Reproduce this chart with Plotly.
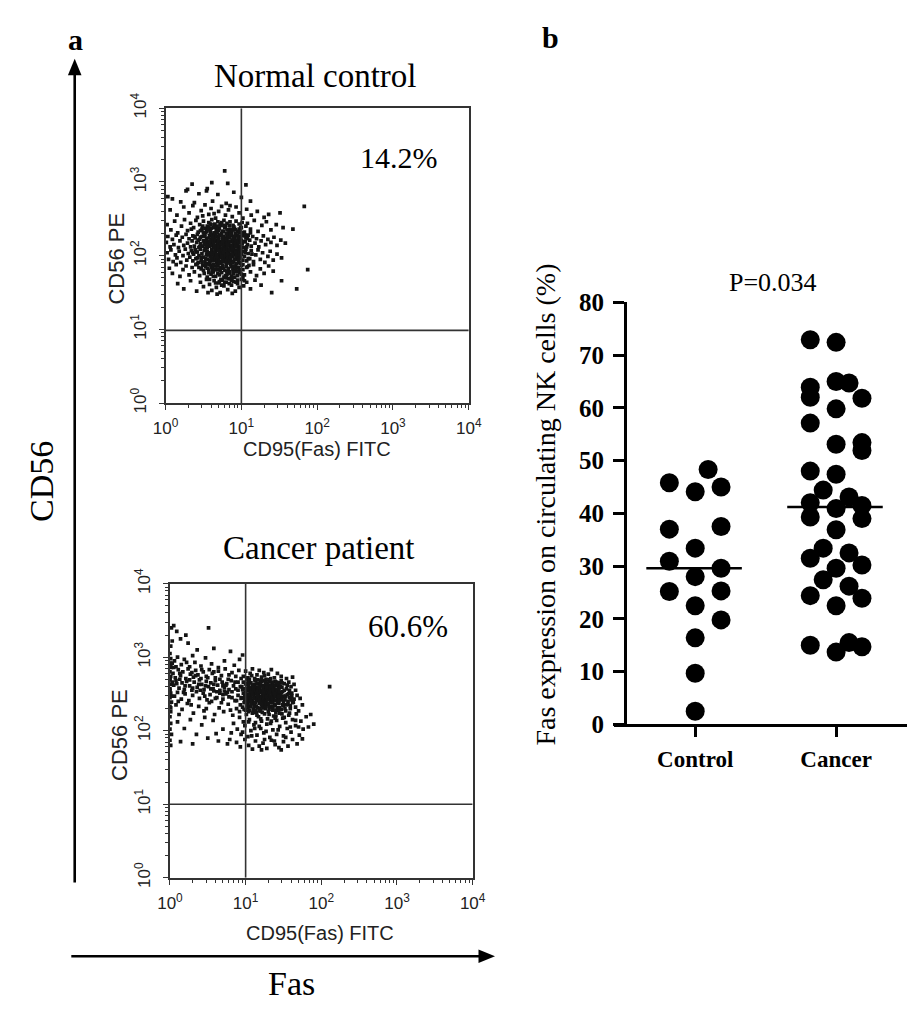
import plotly.graph_objects as go

W, H = 922, 1013

# ---------------- Panel b data (Fas expression, %) ----------------
categories = ["Control", "Cancer"]
control_values = [45.8, 48.3, 44.1, 45.0, 37.0, 37.5, 33.4, 30.9, 29.6, 28.0,
                  25.2, 25.3, 22.5, 19.8, 16.4, 9.7, 2.5]
control_slots = [-2, 1, 0, 2, -2, 2, 0, -2, 2, 0, -2, 2, 0, 2, 0, 0, 0]
cancer_values = [72.9, 72.4, 65.0, 64.7, 63.9, 62.0, 61.8, 59.8, 57.1, 53.1,
                 53.4, 51.9, 48.0, 47.4, 44.4, 42.0, 43.1, 41.5, 40.9, 39.3,
                 39.0, 36.9, 33.4, 31.5, 32.5, 29.6, 30.2, 27.4, 26.2, 24.4,
                 23.9, 22.5, 15.0, 13.7, 15.5, 14.7]
cancer_slots = [-2, 0, 0, 1, -2, -2, 2, 0, -2, 0,
                2, 2, -2, 0, -1, -2, 1, 2, 0, -2,
                2, 0, -1, -2, 1, 0, 2, -1, 1, -2,
                2, 0, -2, 0, 1, 2]
p_value_text = "P=0.034"
y_ticks_b = [0, 10, 20, 30, 40, 50, 60, 70, 80]

# ---------------- Panel a data (log10 decades: CD95 FITC, CD56 PE) ----------------
decades = [1, 10, 100, 1000, 10000]
decade_labels = ["10<sup>0</sup>", "10<sup>1</sup>", "10<sup>2</sup>", "10<sup>3</sup>", "10<sup>4</sup>"]
normal_gate = (10, 9.7)
cancer_gate = (10, 10)
normal_pct = "14.2%"
cancer_pct = "60.6%"

normal_log_pts = [
    (0.78,3.15),(0.35,2.97),(0.61,2.99),(0.82,2.98),(1.06,2.96),(0.29,2.90),(0.55,2.91),
    (0.03,2.80),(0.09,2.77),(0.27,2.88),(0.54,2.88),(0.44,2.84),(0.69,2.83),(0.90,2.86),(1.00,2.79),
    (0.62,2.74),(0.38,2.72),(0.80,2.71),(0.20,2.73),(1.12,2.74),(1.83,2.67),
    (0.06,2.62),(0.15,2.55),(0.24,2.66),(0.31,2.58),(0.36,2.68),(0.42,2.52),(0.47,2.61),(0.52,2.69),
    (0.57,2.56),(0.60,2.64),(0.66,2.51),(0.70,2.60),(0.74,2.67),(0.79,2.55),(0.83,2.62),(0.88,2.53),
    (0.93,2.66),(0.97,2.58),(1.02,2.51),(1.07,2.63),(1.13,2.55),(1.21,2.60),(1.30,2.52),(1.51,2.58),
    (0.64,2.57),(0.85,2.68),(0.49,2.54),(1.36,2.56),
    (0.02,2.42),(0.07,2.35),(0.12,2.47),(0.16,2.31),(0.21,2.40),(0.25,2.49),(0.29,2.34),(0.33,2.44),
    (0.37,2.38),(0.40,2.48),(0.43,2.32),(0.45,2.42),(0.48,2.36),(0.50,2.47),(0.53,2.31),(0.55,2.40),
    (0.57,2.45),(0.59,2.34),(0.61,2.49),(0.63,2.38),(0.65,2.43),(0.67,2.32),(0.69,2.46),(0.71,2.37),
    (0.73,2.41),(0.75,2.33),(0.77,2.48),(0.79,2.39),(0.81,2.44),(0.83,2.35),(0.85,2.46),(0.87,2.31),
    (0.89,2.41),(0.91,2.37),(0.93,2.47),(0.95,2.33),(0.97,2.43),(0.99,2.38),(1.01,2.45),(1.04,2.32),
    (0.52,2.37),(0.68,2.40),(0.84,2.41),(0.74,2.45),(0.60,2.42),(0.92,2.35),
    (1.08,2.44),(1.12,2.36),(1.17,2.48),(1.22,2.33),(1.27,2.41),(1.33,2.46),(1.39,2.35),(1.46,2.42),(1.55,2.38),
    (0.01,2.18),(0.03,2.26),(0.06,2.12),(0.09,2.22),(0.11,2.15),(0.14,2.28),(0.17,2.11),(0.19,2.20),
    (0.22,2.25),(0.24,2.14),(0.27,2.29),(0.29,2.17),(0.31,2.23),(0.33,2.12),
    (0.35,2.20),(0.36,2.27),(0.38,2.13),(0.39,2.24),(0.41,2.18),(0.42,2.29),(0.44,2.11),(0.45,2.22),
    (0.46,2.16),(0.48,2.26),(0.49,2.13),(0.50,2.20),(0.51,2.28),(0.53,2.15),(0.54,2.23),(0.55,2.11),
    (0.56,2.19),(0.58,2.27),(0.59,2.14),(0.60,2.22),(0.61,2.17),(0.62,2.29),(0.63,2.12),(0.64,2.24),
    (0.65,2.19),(0.66,2.27),(0.67,2.14),(0.68,2.21),(0.69,2.16),(0.70,2.25),(0.71,2.11),(0.72,2.19),
    (0.73,2.28),(0.74,2.15),(0.75,2.22),(0.76,2.13),(0.77,2.26),(0.78,2.18),(0.79,2.23),(0.80,2.12),
    (0.81,2.20),(0.82,2.29),(0.83,2.16),(0.84,2.24),(0.85,2.11),(0.86,2.19),(0.87,2.27),(0.88,2.14),
    (0.89,2.22),(0.90,2.17),(0.91,2.25),(0.92,2.12),(0.93,2.20),(0.94,2.28),(0.95,2.15),(0.96,2.23),
    (0.97,2.18),(0.98,2.26),(0.99,2.13),(1.00,2.21),(1.01,2.16),(1.02,2.27),(1.03,2.11),(1.05,2.19),
    (1.06,2.24),(1.08,2.15),(1.09,2.28),
    (1.11,2.21),(1.13,2.13),(1.15,2.26),(1.18,2.17),(1.20,2.23),(1.23,2.12),(1.26,2.20),(1.29,2.27),
    (1.32,2.15),(1.35,2.22),(1.39,2.18),(1.43,2.25),(1.47,2.14),(1.52,2.21),(1.58,2.17),(1.68,2.36),
    (0.02,2.04),(0.04,1.95),(0.07,2.08),(0.10,1.92),(0.13,2.01),(0.15,1.97),(0.18,2.06),(0.20,1.91),
    (0.23,2.00),(0.26,2.09),(0.28,1.94),(0.30,2.03),(0.32,1.98),(0.34,2.07),
    (0.36,1.93),(0.37,2.02),(0.39,2.08),(0.40,1.96),(0.42,2.05),(0.43,1.91),(0.44,2.00),(0.46,2.09),
    (0.47,1.94),(0.48,2.03),(0.50,1.98),(0.51,2.07),(0.52,1.92),(0.54,2.01),(0.55,2.06),(0.56,1.95),
    (0.57,2.04),(0.58,1.90),(0.60,1.99),(0.61,2.08),(0.62,1.93),(0.63,2.02),(0.64,1.97),(0.66,2.06),
    (0.67,1.91),(0.68,2.00),(0.69,2.09),(0.70,1.95),(0.71,2.04),(0.72,1.98),(0.73,2.07),(0.74,1.92),
    (0.75,2.01),(0.76,2.05),(0.77,1.94),(0.78,2.03),(0.79,1.97),(0.80,2.08),(0.81,1.91),(0.82,2.00),
    (0.83,2.06),(0.84,1.96),(0.85,2.02),(0.86,1.93),(0.87,2.09),(0.88,1.99),(0.89,2.04),(0.90,1.92),
    (0.91,2.01),(0.92,2.07),(0.93,1.95),(0.94,2.03),(0.95,1.98),(0.96,2.08),(0.97,1.91),(0.98,2.05),
    (0.99,1.97),(1.00,2.02),(1.02,1.94),(1.03,2.06),(1.04,1.99),(1.06,2.09),(1.07,1.93),(1.09,2.03),
    (1.11,1.96),(1.13,2.07),(1.16,1.92),(1.19,2.01),(1.22,2.08),(1.25,1.95),(1.28,2.04),(1.31,1.91),
    (1.35,1.99),(1.38,2.06),(1.42,1.94),(1.47,2.02),(1.53,1.97),
    (0.05,1.83),(0.09,1.76),(0.14,1.88),(0.19,1.72),(0.23,1.81),(0.27,1.86),(0.31,1.74),(0.35,1.84),
    (0.38,1.78),(0.42,1.89),
    (0.45,1.73),(0.47,1.82),(0.49,1.87),(0.51,1.76),(0.53,1.85),(0.55,1.71),(0.57,1.80),(0.58,1.88),
    (0.60,1.75),(0.62,1.83),(0.63,1.78),(0.65,1.86),(0.66,1.72),(0.68,1.81),(0.69,1.89),(0.71,1.74),
    (0.72,1.84),(0.74,1.77),(0.75,1.87),(0.77,1.71),(0.78,1.80),(0.80,1.85),(0.81,1.75),(0.83,1.83),
    (0.84,1.78),(0.86,1.88),(0.87,1.72),(0.89,1.82),(0.90,1.76),(0.92,1.86),(0.93,1.79),(0.95,1.73),
    (0.96,1.84),(0.98,1.77),(1.00,1.87),(1.02,1.81),(1.04,1.74),
    (1.08,1.85),(1.12,1.78),(1.16,1.88),(1.20,1.73),(1.25,1.82),(1.30,1.76),(1.36,1.86),(1.42,1.79),
    (1.53,1.66),(1.875,1.81),
    (0.16,1.62),(0.24,1.55),(0.33,1.66),(0.41,1.52),(0.46,1.64),(0.50,1.58),(0.54,1.68),(0.58,1.61),
    (0.61,1.53),(0.64,1.66),(0.67,1.57),(0.70,1.63),(0.72,1.50),(0.75,1.67),(0.77,1.59),(0.80,1.64),
    (0.82,1.54),(0.85,1.69),(0.87,1.60),(0.90,1.65),(0.92,1.52),(0.95,1.62),(0.97,1.57),(1.00,1.68),
    (1.03,1.59),(1.07,1.64),(1.12,1.55),(1.18,1.67),(1.26,1.60),(1.40,1.50),(1.73,1.55),(0.88,1.49),
    (0.68,1.48),(0.56,1.50),
    (0.52,2.10),(0.53,1.96),(0.54,2.33),(0.55,2.05),(0.56,1.89),(0.57,2.24),(0.58,2.13),(0.59,1.99),
    (0.60,2.37),(0.61,2.07),(0.62,1.87),(0.63,2.18),(0.64,2.31),(0.65,2.03),(0.66,1.94),(0.67,2.26),
    (0.68,2.09),(0.69,1.86),(0.70,2.34),(0.71,2.01),(0.72,2.15),(0.73,1.90),(0.74,2.30),(0.75,2.06),
    (0.76,1.97),(0.77,2.17),(0.78,2.38),(0.79,2.08),(0.80,1.88),(0.81,2.25),(0.82,2.04),(0.83,1.93),
    (0.84,2.32),(0.85,2.14),(0.86,2.00),(0.87,1.85),(0.88,2.21),(0.89,2.35),(0.90,2.09),(0.91,1.95),
    (0.92,2.18),(0.93,2.03),(0.94,1.89),(0.95,2.27),(0.96,2.12),(0.97,1.96),(0.98,2.22),
    (0.56,2.15),(0.59,2.30),(0.62,2.02),(0.65,2.23),(0.68,1.98),(0.71,2.28),(0.74,2.10),(0.77,1.92),
    (0.80,2.16),(0.83,2.27),(0.86,2.07),(0.89,1.91),(0.92,2.30),(0.95,2.05),(0.58,1.93),(0.61,2.21),
    (0.64,2.11),(0.67,2.36),(0.70,2.12),(0.73,2.00),(0.76,2.33),(0.79,2.22),(0.82,1.97),(0.85,2.36),
    (0.88,2.02),(0.91,2.26),(0.94,2.14),(0.97,2.31),(0.54,2.19),(0.57,2.04),(0.60,2.14),(0.63,1.95),
    (0.66,2.10),(0.69,2.20),(0.72,2.06),(0.75,2.26),(0.78,2.01),(0.81,2.11),(0.84,2.19),(0.87,2.13),
    (0.90,2.24),(0.93,1.99),(0.96,2.18),
    (0.41,2.05),(0.43,2.21),(0.44,1.84),(0.46,2.34),(0.47,1.98),(0.49,2.40),(0.50,1.80),(0.51,2.17),
    (0.52,2.26),(0.53,1.89),(0.55,2.35),(0.56,2.01),(0.57,1.77),(0.58,2.19),(0.59,2.43),(0.60,1.84),
    (0.61,1.96),(0.62,2.25),(0.63,1.72),(0.64,2.05),(0.65,2.39),(0.66,1.81),(0.67,2.01),(0.68,2.31),
    (0.69,1.76),(0.70,2.07),(0.71,1.92),(0.72,2.43),(0.73,1.68),(0.74,1.99),(0.75,2.19),(0.76,1.83),
    (0.77,2.08),(0.78,1.64),(0.79,1.93),(0.80,2.30),(0.81,1.79),(0.82,2.15),(0.83,1.69),(0.84,2.08),
    (0.85,1.90),(0.86,2.29),(0.87,1.66),(0.88,2.10),(0.89,1.80),(0.90,2.39),(0.91,1.71),(0.92,2.05),
    (0.93,1.83),(0.94,2.21),(0.95,1.67),(0.96,1.94),(0.97,2.36),(0.98,1.81),(0.99,2.09),(1.00,1.75),
    (1.01,2.31),(1.02,1.88),(1.03,2.19),(1.04,1.66),(1.05,2.04),(1.06,2.40),(1.07,1.84),(1.08,2.23),
    (1.09,1.96),
    (0.45,2.12),(0.48,1.91),(0.50,2.31),(0.53,2.08),(0.55,1.83),(0.57,2.38),(0.60,2.03),(0.62,1.78),
    (0.65,2.14),(0.67,1.86),(0.70,2.22),(0.72,1.80),(0.75,1.94),(0.77,2.41),(0.80,1.70),(0.82,2.02),
    (0.85,1.76),(0.87,2.34),(0.90,1.86),(0.92,2.13),(0.95,1.78),(0.97,2.02),(1.00,2.38),(1.02,1.70),
    (1.05,2.28),(0.42,1.97),(0.46,2.25),(0.58,1.68),(0.66,1.63),(0.74,1.60),(0.79,1.73),(0.84,1.62),
    (0.88,1.70),(0.93,1.64),(0.71,1.65),(0.63,1.88),(0.76,2.04),(0.86,1.98),(0.69,2.12),(0.81,2.35),
    (0.54,2.14),(0.99,1.90),(1.07,2.12),(0.38,2.26),(0.40,1.88),(1.10,1.87),(1.12,2.31),(0.36,2.04),
    (0.34,2.36),(1.14,2.02),
]

cancer_log_pts = [
    (0.02,3.40),(0.05,3.43),(0.09,3.35),(0.21,3.30),(0.51,3.40),(0.24,3.19),(0.14,3.25),(0.58,3.12),
    (0.80,3.08),(0.96,3.03),(0.36,3.10),(0.03,3.22),(0.01,3.15),
    (0.00,3.05),(0.01,2.98),(0.00,2.92),(0.02,2.86),(0.00,2.80),(0.01,2.74),(0.00,2.69),(0.02,2.63),
    (0.00,2.57),(0.01,2.51),(0.00,2.45),(0.02,2.39),(0.00,2.33),(0.01,2.26),(0.00,2.19),(0.01,2.10),
    (0.00,2.02),(0.02,1.95),(0.00,1.87),(0.01,1.80),(0.00,2.71),(0.00,2.55),(0.01,2.88),
    (0.06,2.95),(0.10,3.00),(0.15,2.90),(0.19,2.97),(0.26,2.87),(0.33,2.93),(0.41,2.88),(0.47,2.99),
    (0.55,2.91),(0.64,2.86),(0.72,2.95),(0.85,2.89),(0.92,2.97),(0.08,2.87),(0.30,3.02),
    (0.04,2.78),(0.07,2.72),(0.11,2.83),(0.14,2.75),(0.17,2.80),(0.21,2.71),(0.24,2.84),(0.27,2.77),
    (0.31,2.73),(0.34,2.82),(0.37,2.76),(0.41,2.71),(0.44,2.80),(0.48,2.74),(0.52,2.83),(0.56,2.78),
    (0.60,2.72),(0.64,2.81),(0.68,2.75),(0.73,2.84),(0.77,2.70),(0.82,2.79),(0.87,2.74),(0.91,2.82),
    (0.13,2.70),(0.29,2.79),
    (0.05,2.62),(0.08,2.68),(0.12,2.58),(0.16,2.65),(0.19,2.56),(0.22,2.67),(0.26,2.61),(0.29,2.55),
    (0.32,2.66),(0.36,2.59),(0.39,2.69),(0.42,2.63),(0.45,2.56),(0.48,2.67),(0.51,2.60),(0.54,2.65),
    (0.57,2.57),(0.60,2.68),(0.63,2.62),(0.66,2.55),(0.69,2.66),(0.72,2.59),(0.75,2.64),(0.78,2.56),
    (0.81,2.68),(0.84,2.61),(0.87,2.57),(0.90,2.66),(0.93,2.60),(0.47,2.61),(0.58,2.63),(0.70,2.61),
    (0.06,2.47),(0.10,2.52),(0.15,2.43),(0.20,2.50),(0.25,2.41),(0.30,2.48),(0.35,2.53),(0.39,2.44),
    (0.44,2.51),(0.49,2.42),(0.53,2.49),(0.58,2.54),(0.62,2.45),(0.66,2.51),(0.70,2.43),(0.74,2.50),
    (0.78,2.46),(0.82,2.53),(0.86,2.41),(0.90,2.48),(0.94,2.44),(0.55,2.40),(0.72,2.54),
    (0.08,2.35),(0.16,2.29),(0.23,2.37),(0.31,2.24),(0.38,2.33),(0.45,2.27),(0.52,2.38),(0.59,2.22),
    (0.65,2.31),(0.71,2.26),(0.77,2.36),(0.83,2.21),(0.88,2.30),(0.93,2.35),(0.12,2.22),
    (0.10,2.12),(0.19,2.03),(0.27,2.15),(0.35,1.95),(0.42,2.08),(0.50,1.90),(0.57,2.14),(0.64,1.86),
    (0.70,2.02),(0.76,1.82),(0.81,1.97),(0.14,1.85),(0.30,1.82),(0.46,2.18),(0.61,1.96),(0.79,1.88),
    (0.84,2.10),
    (0.97,2.74),(1.00,2.81),(1.03,2.72),(1.06,2.78),(1.09,2.84),(1.12,2.71),(1.15,2.76),(1.18,2.82),
    (1.21,2.73),(1.24,2.79),(1.27,2.70),(1.30,2.77),(1.34,2.83),(1.38,2.72),(1.42,2.78),(1.47,2.74),
    (1.54,2.71),(1.08,2.75),(1.25,2.75),(1.62,2.73),
    (0.95,2.60),(0.97,2.66),(0.99,2.57),(1.01,2.63),(1.03,2.69),(1.05,2.58),(1.07,2.65),(1.09,2.56),
    (1.11,2.62),(1.13,2.68),(1.15,2.59),(1.17,2.64),(1.19,2.55),(1.21,2.67),(1.23,2.61),(1.25,2.57),
    (1.27,2.66),(1.29,2.60),(1.31,2.69),(1.33,2.56),(1.35,2.63),(1.37,2.58),(1.39,2.67),(1.41,2.61),
    (1.43,2.55),(1.45,2.65),(1.48,2.59),(1.51,2.64),(1.54,2.57),(1.57,2.66),(1.60,2.60),(1.64,2.63),
    (1.04,2.62),(1.12,2.58),(1.20,2.63),(1.28,2.56),(1.36,2.66),(1.44,2.60),(1.16,2.69),(1.32,2.62),
    (0.95,2.45),(0.97,2.51),(0.99,2.42),(1.01,2.48),(1.03,2.54),(1.05,2.43),(1.07,2.50),(1.09,2.41),
    (1.11,2.47),(1.13,2.53),(1.15,2.44),(1.17,2.49),(1.19,2.40),(1.21,2.52),(1.23,2.46),(1.25,2.42),
    (1.27,2.51),(1.29,2.45),(1.31,2.54),(1.33,2.41),(1.35,2.48),(1.37,2.43),(1.39,2.52),(1.41,2.46),
    (1.43,2.40),(1.45,2.50),(1.47,2.44),(1.49,2.53),(1.52,2.42),(1.55,2.49),(1.58,2.45),(1.61,2.51),
    (1.64,2.43),(1.68,2.48),(1.72,2.44),(1.02,2.45),(1.10,2.51),(1.18,2.46),(1.26,2.48),(1.34,2.45),
    (1.42,2.50),(1.50,2.47),(1.14,2.41),(1.30,2.49),(1.22,2.44),(1.38,2.47),(1.06,2.53),(1.46,2.42),
    (0.96,2.32),(0.98,2.38),(1.00,2.28),(1.02,2.35),(1.04,2.26),(1.06,2.33),(1.08,2.39),(1.10,2.29),
    (1.12,2.36),(1.14,2.25),(1.16,2.31),(1.18,2.37),(1.20,2.27),(1.22,2.34),(1.24,2.39),(1.26,2.30),
    (1.28,2.36),(1.30,2.26),(1.32,2.33),(1.34,2.38),(1.36,2.28),(1.38,2.35),(1.40,2.25),(1.42,2.31),
    (1.44,2.37),(1.47,2.29),(1.50,2.34),(1.53,2.27),(1.56,2.36),(1.59,2.30),(1.62,2.38),(1.66,2.32),
    (1.70,2.27),(1.75,2.35),(1.11,2.32),(1.27,2.33),(1.43,2.28),(1.19,2.30),(1.35,2.32),
    (0.92,2.18),(0.97,2.12),(1.01,2.22),(1.05,2.15),(1.09,2.24),(1.13,2.11),(1.17,2.19),(1.21,2.13),
    (1.25,2.23),(1.29,2.16),(1.33,2.10),(1.37,2.20),(1.41,2.14),(1.45,2.24),(1.49,2.17),(1.53,2.11),
    (1.57,2.21),(1.62,2.15),(1.67,2.23),(1.73,2.13),(1.80,2.19),(1.86,2.22),(1.15,2.21),(1.39,2.17),
    (0.89,2.02),(0.94,1.95),(0.99,2.07),(1.03,1.92),(1.07,2.00),(1.11,2.08),(1.15,1.94),(1.20,2.03),
    (1.24,1.97),(1.28,2.09),(1.32,1.91),(1.36,2.01),(1.41,1.95),(1.45,2.06),(1.50,1.93),(1.55,2.03),
    (1.60,1.98),(1.66,2.07),(1.71,1.94),(1.76,2.02),(1.83,2.05),(1.90,2.09),(1.18,2.06),
    (0.88,1.84),(0.93,1.78),(0.99,1.88),(1.04,1.80),(1.09,1.75),(1.13,1.86),(1.18,1.79),(1.23,1.83),
    (1.28,1.76),(1.34,1.87),(1.39,1.81),(1.44,1.77),(1.50,1.85),(1.56,1.79),(1.62,1.88),(1.68,1.82),
    (1.75,1.89),(1.21,1.74),(1.47,1.74),
    (2.11,2.60),
    (1.00,2.52),(1.02,2.39),(1.04,2.66),(1.06,2.46),(1.08,2.58),(1.10,2.37),(1.12,2.63),(1.14,2.50),
    (1.16,2.42),(1.18,2.57),(1.20,2.68),(1.22,2.48),(1.24,2.36),(1.26,2.61),(1.28,2.53),(1.30,2.44),
    (1.32,2.67),(1.34,2.55),(1.36,2.39),(1.38,2.62),(1.40,2.51),(1.42,2.43),(1.44,2.58),(1.46,2.48),
    (1.48,2.65),(1.03,2.57),(1.07,2.44),(1.11,2.55),(1.15,2.64),(1.19,2.45),(1.23,2.59),(1.27,2.40),
    (1.31,2.58),(1.35,2.50),(1.39,2.41),(1.43,2.63),(1.47,2.52),(1.09,2.49),(1.17,2.53),(1.25,2.55),
    (1.33,2.47),(1.41,2.56),(1.13,2.45),(1.21,2.40),(1.29,2.64),(1.37,2.54),(1.45,2.46),
    (0.96,2.56),(0.98,2.29),(1.00,2.64),(1.01,2.41),(1.03,2.31),(1.04,2.49),(1.05,2.70),(1.07,2.36),
    (1.08,2.53),(1.10,2.25),(1.11,2.44),(1.12,2.69),(1.14,2.33),(1.15,2.55),(1.16,2.47),(1.18,2.27),
    (1.19,2.61),(1.20,2.39),(1.22,2.55),(1.23,2.31),(1.24,2.68),(1.25,2.47),(1.27,2.35),(1.28,2.59),
    (1.29,2.42),(1.31,2.29),(1.32,2.52),(1.33,2.71),(1.35,2.44),(1.36,2.33),(1.37,2.61),(1.38,2.50),
    (1.40,2.28),(1.41,2.66),(1.42,2.38),(1.44,2.53),(1.45,2.31),(1.46,2.60),(1.48,2.43),(1.49,2.35),
    (1.51,2.55),(1.52,2.30),(1.53,2.47),(1.55,2.62),(1.56,2.40),(1.58,2.55),(1.59,2.34),(1.61,2.47),
    (1.63,2.39),(1.66,2.55),
    (1.02,2.58),(1.06,2.40),(1.09,2.62),(1.13,2.38),(1.17,2.59),(1.21,2.35),(1.26,2.66),(1.30,2.37),
    (1.34,2.60),(1.39,2.34),(1.43,2.46),(1.47,2.68),(1.50,2.39),(1.54,2.35),(1.57,2.50),(1.60,2.42),
    (0.99,2.47),(1.05,2.28),(1.13,2.27),(1.22,2.25),(1.31,2.22),(1.40,2.20),(1.48,2.23),(1.58,2.24),
    (1.24,2.52),(1.36,2.56),(1.18,2.42),(1.27,2.46),(1.44,2.41),(1.10,2.57),
    (1.04,2.12),(1.12,2.03),(1.20,2.16),(1.27,1.99),(1.34,2.13),(1.43,2.01),(1.51,2.18),(1.59,2.05),
    (1.66,2.14),(1.08,1.93),(1.25,1.88),(1.38,1.86),(1.53,1.91),(0.96,1.98),(1.70,2.05),
    (0.05,2.86),(0.09,2.64),(0.13,2.78),(0.18,2.52),(0.22,2.93),(0.26,2.69),(0.30,2.58),(0.34,2.75),
    (0.38,2.63),(0.42,2.83),(0.46,2.47),(0.50,2.72),(0.54,2.57),(0.58,2.80),(0.62,2.53),(0.66,2.70),
    (0.70,2.49),(0.74,2.62),(0.78,2.76),(0.82,2.45),(0.86,2.66),(0.90,2.55),(0.94,2.71),(0.11,2.40),
    (0.28,2.35),(0.48,2.30),(0.68,2.38),(0.80,2.28),(0.03,2.66),(0.02,2.47),(0.01,2.31),(0.03,2.92),
    (0.20,2.61),(0.40,2.55),(0.60,2.44),(0.76,2.52),(0.88,2.41),(0.92,2.26),
]


# ---------------- helpers (pixel -> paper) ----------------
def px(x):
    return x / W


def py(y):
    return 1 - y / H


SERIF = "Liberation Serif"
SANS = "Liberation Sans"
INK = "#141414"
LINE = "#333333"

fig = go.Figure()

# ---- flow cytometry dot plots ----
for pts, xa, ya in [(normal_log_pts, "x2", "y2"), (cancer_log_pts, "x3", "y3")]:
    fig.add_trace(go.Scatter(
        x=[10 ** p[0] for p in pts], y=[10 ** p[1] for p in pts],
        xaxis=xa, yaxis=ya, mode="markers",
        marker=dict(symbol="square", size=3.7, color=INK, line=dict(width=0)),
        hoverinfo="skip", showlegend=False))

# ---- panel b column scatter ----
SLOT = 13.3 / 145.0
for i, (vals, slots) in enumerate([(control_values, control_slots), (cancer_values, cancer_slots)]):
    fig.add_trace(go.Scatter(
        x=[i + s * SLOT for s in slots], y=vals, xaxis="x", yaxis="y",
        mode="markers", marker=dict(size=19, color="black", line=dict(width=0)),
        cliponaxis=False, hoverinfo="skip", showlegend=False))
    srt = sorted(vals)
    n = len(srt)
    med = srt[n // 2] if n % 2 else (srt[n // 2 - 1] + srt[n // 2]) / 2
    fig.add_trace(go.Scatter(
        x=[i - 0.347, i + 0.331], y=[med, med], xaxis="x", yaxis="y",
        mode="lines", line=dict(color="black", width=2.6),
        hoverinfo="skip", showlegend=False))

minor_vals = [m * 10 ** k for k in range(4) for m in range(2, 10)]


def flow_axis(domain, is_y):
    d = dict(
        type="log", range=[0, 4], domain=domain,
        showline=True, mirror=True, linecolor=LINE, linewidth=1.6,
        ticks="outside", ticklen=5, tickwidth=1.2, tickcolor=LINE,
        tickmode="array", tickvals=decades, ticktext=decade_labels,
        tickfont=dict(family=SANS, size=17, color="#222"),
        showgrid=False, zeroline=False, ticklabelstandoff=4,
        minor=dict(tickmode="array", tickvals=minor_vals, ticks="outside",
                   ticklen=3, tickwidth=1, tickcolor=LINE, showgrid=False),
    )
    if is_y:
        d["tickangle"] = -90
        d["ticklabelstandoff"] = 6
    return d


layout = dict(
    width=W, height=H, margin=dict(l=0, r=0, t=0, b=0),
    paper_bgcolor="white", plot_bgcolor="white", showlegend=False,
    xaxis2=dict(flow_axis([px(157), px(469)], False), anchor="y2"),
    yaxis2=dict(flow_axis([py(399), py(95)], True), anchor="x2"),
    xaxis3=dict(flow_axis([px(161.5), px(473)], False), anchor="y3"),
    yaxis3=dict(flow_axis([py(888), py(585)], True), anchor="x3"),
    xaxis=dict(
        domain=[px(618), px(920)], range=[(618 - 702) / 145.0, (920 - 702) / 145.0],
        anchor="y", showline=True, linecolor="black", linewidth=2.6,
        ticks="outside", ticklen=10, tickwidth=2.6, tickcolor="black",
        tickmode="array", tickvals=[0, 1], ticktext=categories,
        tickfont=dict(family=SERIF, size=23, color="black", weight="bold"),
        showgrid=False, zeroline=False, ticklabelstandoff=2),
    yaxis=dict(
        domain=[py(730), py(295)], range=[0, 80], anchor="free", position=px(629.5),
        showline=True, linecolor="black", linewidth=2.6,
        ticks="outside", ticklen=11, tickwidth=2.6, tickcolor="black",
        tickmode="array", tickvals=y_ticks_b,
        tickfont=dict(family=SERIF, size=25, color="black", weight="bold"),
        showgrid=False, zeroline=False, ticklabelstandoff=4),
)

shapes = []
# quadrant gates
for (gx, gy), xa, ya in [(normal_gate, "x2", "y2"), (cancer_gate, "x3", "y3")]:
    shapes.append(dict(type="line", xref=xa, yref=ya, x0=gx, x1=gx, y0=1, y1=10000,
                       line=dict(color=LINE, width=1.6)))
    shapes.append(dict(type="line", xref=xa, yref=ya, x0=1, x1=10000, y0=gy, y1=gy,
                       line=dict(color=LINE, width=1.6)))

# big arrows of panel a
shapes.append(dict(type="line", xref="paper", yref="paper", x0=px(63.5), x1=px(63.5),
                   y0=py(893), y1=py(58), line=dict(color="black", width=2.6)))
shapes.append(dict(type="path", xref="paper", yref="paper",
                   path=f"M {px(63.5)},{py(44)} L {px(56.5)},{py(61)} L {px(70.5)},{py(61)} Z",
                   fillcolor="black", line=dict(width=0)))
shapes.append(dict(type="line", xref="paper", yref="paper", x0=px(60), x1=px(482),
                   y0=py(969), y1=py(969), line=dict(color="black", width=2.6)))
shapes.append(dict(type="path", xref="paper", yref="paper",
                   path=f"M {px(496)},{py(969)} L {px(479)},{py(962)} L {px(479)},{py(976)} Z",
                   fillcolor="black", line=dict(width=0)))
layout["shapes"] = shapes


def ann(text, x, y, size, family=SERIF, angle=0, bold=False, color="black"):
    return dict(text=text, x=px(x), y=py(y), xref="paper", yref="paper",
                xanchor="center", yanchor="middle", showarrow=False, textangle=angle,
                font=dict(family=family, size=size, color=color,
                          weight="bold" if bold else "normal"))


layout["annotations"] = [
    ann("a", 64.5, 24, 30, bold=True),
    ann("b", 553, 22, 30, bold=True),
    ann("Normal control", 311, 62, 33),
    ann("Cancer patient", 315, 548, 33),
    ann(normal_pct, 397, 146, 30),
    ann(cancer_pct, 406, 629, 31),
    ann("CD56", 30, 480, 34, angle=-90),
    ann("Fas", 287, 997, 34),
    ann("CD56 PE", 107, 250, 22, family=SANS, angle=-90, color="#222"),
    ann("CD56 PE", 109, 741, 22, family=SANS, angle=-90, color="#222"),
    ann("CD95(Fas) FITC", 313, 446, 20, family=SANS, color="#222"),
    ann("CD95(Fas) FITC", 316, 945, 20, family=SANS, color="#222"),
    ann(p_value_text, 782, 275, 26),
    ann("Fas expression on circulating NK cells (%)", 548, 504, 28, angle=-90),
]

fig.update_layout(**layout)
fig.write_html("out.html")
